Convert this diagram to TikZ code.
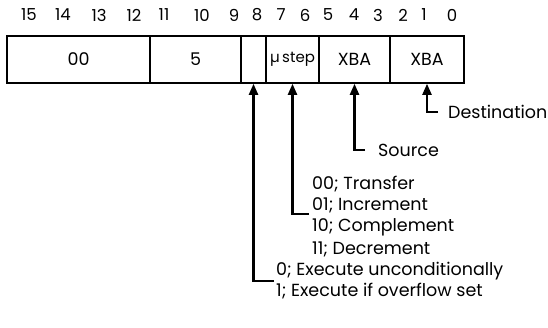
\documentclass[tikz,border=0pt]{standalone}
\usepackage{fontspec}
\setmainfont{Poppins}
\usetikzlibrary{arrows.meta}

\begin{document}
\begin{tikzpicture}[x=1pt,y=-1pt]
    \tikzset{field/.style = {shape=rectangle,draw,line width=1.6pt,minimum height=47pt,inner sep=0pt,font=\fontsize{17.5}{20}\selectfont}}
    \tikzset{bitno/.style = {shape=rectangle,draw=none,inner sep=0pt,font=\fontsize{16.5}{19}\selectfont}}
    \tikzset{note/.style = {shape=rectangle,draw=none,anchor=west,inner sep=0pt,font=\fontsize{17.5}{20}\selectfont}}
    \tikzset{pointer/.style = {-{Triangle[width=9pt,length=11pt]},line width=2.2pt}}

    \useasboundingbox (0,0) rectangle (548,327);

    % bit numbers
    \foreach \x/\b in {29/15,63/14,99/13,134/12,164/11,202/10,234/9,257/8,
                       281/7,305/6,328/5,354/4,378/3,403/2,424/1,452/0}
        \node[bitno] (bit\b) at (\x,15) {\b};

    % fields
    \node[field,minimum width=143pt] (f00) at (78.5,59.5) {00};
    \node[field,minimum width=91pt] (f5) at (195.5,59.5) {5};
    \node[field,minimum width=25pt] (f8) at (253.5,59.5) {};
    \node[field,minimum width=53pt] (fstep) at (292.5,59.5) {\fontsize{15}{17}\selectfont µ\,step};
    \node[field,minimum width=71pt] (fsrc) at (354.5,59.5) {XBA};
    \node[field,minimum width=74pt] (fdst) at (427,59.5) {XBA};

    % notes
    \node[note] (dst) at (448,112) {Destination};
    \node[note] (src) at (378,150) {Source};

    \node[note] (tra) at (312,184) {00; Transfer};
    \node[note] (inc) at (312,205) {01; Increment};
    \node[note] (com) at (312,227) {10; Complement};
    \node[note] (dec) at (312,249) {11; Decrement};

    \node[note] (exu) at (276,271) {0; Execute unconditionally};
    \node[note] (exo) at (276,291) {1; Execute if overflow set};

    %edges
    \draw[pointer] ([xshift=-10pt]dst.west) -| (fdst.south);
    \draw[pointer] ([xshift=-13pt]src.west) -| (fsrc.south);
    \draw[pointer] ([xshift=-3pt,yshift=-9pt]inc.west) -| (fstep.south);
    \draw[pointer] ([xshift=-2pt,yshift=-10pt]exu.west) -| (f8.south);
\end{tikzpicture}
\end{document}
